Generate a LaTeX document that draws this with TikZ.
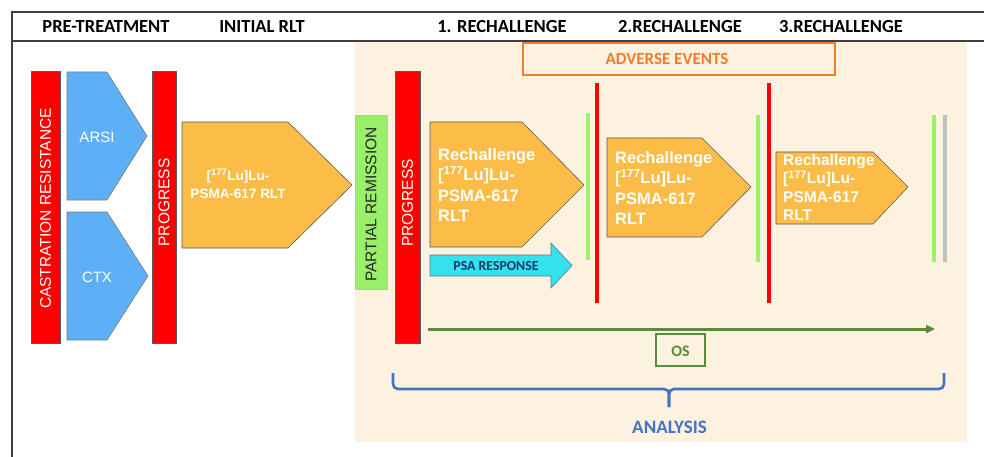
\documentclass[tikz,border=0pt]{standalone}
\usepackage{fontspec}
\setmainfont{Liberation Sans}
\newfontfamily\calibri{Carlito}
\usepackage{xcolor}
\usepackage{tikz}
\usetikzlibrary{arrows.meta,positioning}
\definecolor{barred}{HTML}{FF0000}
\definecolor{skyc}{HTML}{5DB0F5}
\definecolor{amberc}{HTML}{FBBD48}
\definecolor{creamc}{HTML}{FDF2DF}
\definecolor{limec}{HTML}{99EE6A}
\definecolor{lineg}{HTML}{A0F070}
\definecolor{cyanc}{HTML}{33E2EE}
\definecolor{aeorange}{HTML}{ED7D31}
\definecolor{osgreen}{HTML}{5B8C3A}
\definecolor{anblue}{HTML}{4472C4}
\definecolor{navyc}{HTML}{1F3864}
\definecolor{edgec}{HTML}{5A5A5A}
\tikzset{
  rbar/.style={fill=barred,draw=edgec,line width=0.6pt},
  chev/.style={fill=skyc,draw=edgec!80,line width=0.6pt},
  rlt/.style={fill=amberc,draw=edgec,line width=0.6pt},
  vlab/.style={rotate=90,text=white,inner sep=0pt,font=\fontsize{15.5}{17}\selectfont},
  hd/.style={anchor=base,inner sep=0pt,font=\calibri\bfseries\fontsize{18.5}{20}\selectfont},
  rtxt/.style={anchor=north west,inner sep=0pt,align=left,text=white,font=\bfseries\fontsize{16.5}{20.5}\selectfont},
  vline/.style={line width=3.6pt}
}

\begin{document}
\begin{tikzpicture}[x=1pt,y=-1pt]
\useasboundingbox (0,0) rectangle (984,457);
% shaded rechallenge area
\fill[creamc] (355,42) rectangle (967,442);
% frame and header row
\draw[edgec!70!black,line width=1.6pt] (12,457) -- (12,12) -- (984,12);
\draw[edgec!70!black,line width=1.6pt] (12,41) -- (984,41);
\node[hd] (pre) at (106,33) {PRE-TREATMENT};
\node[hd] (ini) at (262,33) {INITIAL RLT};
\node[hd] (re1) at (502,33) {1. RECHALLENGE};
\node[hd] (re2) at (680,33) {2.RECHALLENGE};
\node[hd] (re3) at (841,33) {3.RECHALLENGE};

% pre-treatment
\draw[rbar] (31,71) rectangle (60,343);
\node[vlab] (crpc) at (45.5,208.5) {CASTRATION RESISTANCE};
\draw[chev] (67,72) -- (107,72) -- (147,136) -- (107,200) -- (67,200) -- cycle;
\node[text=white,font=\fontsize{15}{17}\selectfont] (arsi) at (97,137) {ARSI};
\draw[chev] (67,212) -- (107,212) -- (148,276) -- (107,340) -- (67,340) -- cycle;
\node[text=white,font=\fontsize{15}{17}\selectfont] (ctx) at (97,277) {CTX};
\draw[rbar] (152,71) rectangle (176,343);
\node[vlab] (prog1) at (164,202.5) {PROGRESS};

% initial RLT
\draw[rlt] (182,122) -- (288,122) -- (352,185) -- (288,248) -- (182,248) -- cycle;
\node[anchor=north,inner sep=0pt,align=center,text=white,font=\bfseries\fontsize{13.5}{18}\selectfont]
  (lu0) at (238,169) {[\textsuperscript{177}Lu]Lu-\\PSMA-617 RLT};
\draw[fill=limec,draw=anblue!45,line width=0.8pt] (355,115) rectangle (387,289);
\node[vlab,text=black!85] (pr) at (371,204.5) {PARTIAL REMISSION};
\draw[rbar] (395,71) rectangle (420,343);
\node[vlab] (prog2) at (407.5,203) {PROGRESS};

% adverse events
\draw[aeorange,line width=1.3pt] (523,43) rectangle (835,75);
\node[anchor=base,inner sep=0pt,text=aeorange,font=\calibri\bfseries\fontsize{17}{19}\selectfont]
  (ae) at (667,65) {ADVERSE EVENTS};

% rechallenge cycles
\draw[rlt] (430,122) -- (522,122) -- (584,185) -- (522,247) -- (430,247) -- cycle;
\node[rtxt] (lu1) at (438,148) {Rechallenge\\{}[\textsuperscript{177}Lu]Lu-\\PSMA-617\\RLT};
\draw[rlt] (607,138) -- (702,138) -- (751,187) -- (702,237) -- (607,237) -- cycle;
\node[rtxt] (lu2) at (615,151) {Rechallenge\\{}[\textsuperscript{177}Lu]Lu-\\PSMA-617\\RLT};
\draw[rlt] (776,152) -- (873,152) -- (908,187) -- (873,224) -- (776,224) -- cycle;
\node[rtxt,font=\bfseries\fontsize{15.5}{18.5}\selectfont] (lu3) at (783,154)
  {Rechallenge\\{}[\textsuperscript{177}Lu]Lu-\\PSMA-617\\RLT};

% response markers
\draw[vline,lineg] (588,113) -- (588,260);
\draw[vline,barred] (597,83) -- (597,303);
\draw[vline,lineg] (758,115) -- (758,262);
\draw[vline,barred] (769,83) -- (769,303);
\draw[vline,lineg] (934,115) -- (934,262);
\draw[vline,black!25] (945,115) -- (945,262);

% PSA response
\draw[fill=cyanc,draw=navyc!70,line width=0.6pt] (430,255) -- (551,255) -- (551,243) -- (572,265.5)
  -- (551,288) -- (551,276) -- (430,276) -- cycle;
\node[anchor=base,inner sep=0pt,text=navyc,font=\calibri\bfseries\fontsize{13.8}{15}\selectfont]
  (psa) at (496,270) {PSA RESPONSE};

% overall survival
\coordinate (os0) at (428,329);
\coordinate (os1) at (935,329);
\draw[osgreen,line width=3pt,-{Triangle[length=9pt,width=8pt]}] (os0) -- (os1);
\draw[osgreen,line width=1.4pt] (656,334) rectangle (705,366);
\node[anchor=base,inner sep=0pt,text=osgreen,font=\calibri\bfseries\fontsize{16}{18}\selectfont]
  (os) at (680.5,356) {OS};

% analysis brace
\coordinate (bl) at (393,373);
\coordinate (br) at (944,373);
\coordinate (bm) at (669,407);
\draw[anblue,line width=2.6pt,rounded corners=5pt] (bl) |- (bm |- 0,389) -- (bm);
\draw[anblue,line width=2.6pt,rounded corners=5pt] (br) |- (bm |- 0,389) -- (bm);
\node[anchor=base,inner sep=0pt,text=anblue,font=\calibri\bfseries\fontsize{19}{21}\selectfont]
  (an) at (669.5,433) {ANALYSIS};
\end{tikzpicture}
\end{document}
